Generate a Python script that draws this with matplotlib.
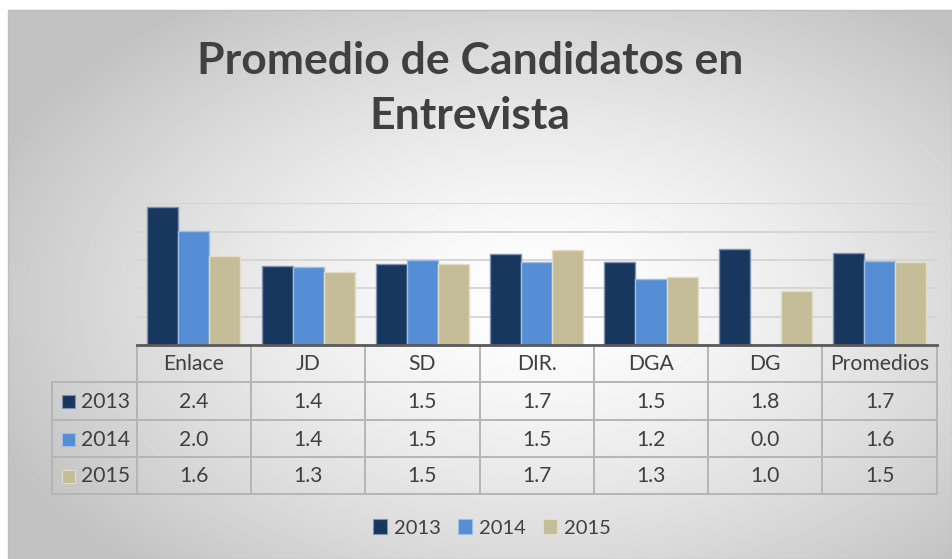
import matplotlib
matplotlib.use("Agg")
import matplotlib.pyplot as plt
import matplotlib.transforms as mtransforms
from matplotlib.patches import Patch, Rectangle
import numpy as np

plt.rcParams["font.family"] = ["Lato", "DejaVu Sans"]

categories = ["Enlace", "JD", "SD", "DIR.", "DGA", "DG", "Promedios"]
years = ["2013", "2014", "2015"]
# bar heights
vals_2013 = [2.43, 1.40, 1.44, 1.61, 1.46, 1.70, 1.63]
vals_2014 = [2.02, 1.37, 1.51, 1.46, 1.17, 0.0, 1.49]
vals_2015 = [1.58, 1.29, 1.44, 1.67, 1.20, 0.96, 1.46]
# values as printed in the data table
table_2013 = ["2.4", "1.4", "1.5", "1.7", "1.5", "1.8", "1.7"]
table_2014 = ["2.0", "1.4", "1.5", "1.5", "1.2", "0.0", "1.6"]
table_2015 = ["1.6", "1.3", "1.5", "1.7", "1.3", "1.0", "1.5"]

series = [vals_2013, vals_2014, vals_2015]
table_rows = [table_2013, table_2014, table_2015]
bar_colors = ["#17375e", "#558ed5", "#c4bd97"]
edge_colors = ["#7f93b0", "#9dbde6", "#e2ddc6"]
text_col = "#404040"
line_col = "#b5b5b5"

W, H = 952, 559
fig = plt.figure(figsize=(W / 100, H / 100), dpi=100)

# background with radial gradient
bg = fig.add_axes([0, 0, 1, 1], zorder=0)
yy, xx = np.mgrid[10:H, 8:W]
r = np.sqrt(((xx - 540) / 540.0) ** 2 + ((yy - 300) / 330.0) ** 2)
grad = 1 - 0.21 * np.clip(r, 0, 1.1) ** 1.4
bg.imshow(grad, extent=[8, W, H, 10], cmap="gray", vmin=0, vmax=1,
          aspect="auto", interpolation="bilinear")
bg.add_patch(Rectangle((8, 10), W - 8, H - 10, fill=False, edgecolor="#bdbdbd", lw=1))
bg.set_xlim(0, W)
bg.set_ylim(H, 0)
bg.axis("off")

# plot area
x0, yb, pw, ph = 136.7, 345.3, 800.0, 142.0
ax = fig.add_axes([x0 / W, 1 - yb / H, pw / W, ph / H], zorder=2)
ax.set_facecolor("none")
x = np.arange(len(categories)) + 0.5
bw = 0.272
for k, vals in enumerate(series):
    ax.bar(x + (k - 1) * bw, vals, width=bw, color=bar_colors[k],
           edgecolor=edge_colors[k], linewidth=1, zorder=3)
ax.set_xlim(0, len(categories))
ax.set_ylim(0, 2.5)
ax.set_yticks(np.arange(0.5, 2.51, 0.5))
ax.yaxis.grid(True, color="#d4d4d4", lw=1.3, zorder=0)
ax.set_axisbelow(True)
ax.tick_params(left=False, bottom=False, labelleft=False, labelbottom=False)
for s in ["top", "right", "left"]:
    ax.spines[s].set_visible(False)
ax.spines["bottom"].set_color("#595959")
ax.spines["bottom"].set_linewidth(2)
ax.spines["bottom"].set_zorder(4)

# data table below the plot
tr = mtransforms.blended_transform_factory(ax.transData, bg.transData)
row_y = [yb, 381.7, 420.0, 457.3, 493.7]
lab_x = -0.738
ncat = len(categories)
for yv in row_y[1:]:
    bg.plot([lab_x, ncat], [yv, yv], color=line_col, lw=1.4, transform=tr, zorder=1)
for i in range(ncat + 1):
    bg.plot([i, i], [yb, row_y[-1]], color=line_col, lw=1.4, transform=tr, zorder=1)
bg.plot([lab_x, lab_x], [row_y[1], row_y[-1]], color=line_col, lw=1.4, transform=tr, zorder=1)

fs = 15.2
for i, c in enumerate(categories):
    bg.text(i + 0.5, (row_y[0] + row_y[1]) / 2 + 1, c, transform=tr, ha="center",
            va="center", fontsize=fs, color=text_col)
for k, row in enumerate(table_rows):
    yc = (row_y[k + 1] + row_y[k + 2]) / 2 + 1
    for i, t in enumerate(row):
        bg.text(i + 0.5, yc, t, transform=tr, ha="center", va="center",
                fontsize=fs, color=text_col)
    bg.add_patch(Rectangle((62, yc - 7), 13, 13, facecolor=bar_colors[k],
                           edgecolor=edge_colors[k], lw=0.8, zorder=2))
    bg.text(81, yc, years[k], ha="left", va="center", fontsize=fs, color=text_col)

# title
bg.text(470, 61, "Promedio de Candidatos en", ha="center", va="center",
        fontsize=32, fontweight="bold", color=text_col)
bg.text(470, 116, "Entrevista", ha="center", va="center",
        fontsize=32, fontweight="bold", color=text_col)

# legend
handles = [Patch(facecolor=bar_colors[k], edgecolor=edge_colors[k], lw=0.8) for k in range(3)]
fig.legend(handles, years, loc="center", bbox_to_anchor=(492 / W, 1 - 528 / H),
           ncol=3, frameon=False, fontsize=14.5, handlelength=0.7, handleheight=0.7,
           handletextpad=0.35, columnspacing=0.85, labelcolor=text_col)

fig.savefig("out.png", dpi=100)
